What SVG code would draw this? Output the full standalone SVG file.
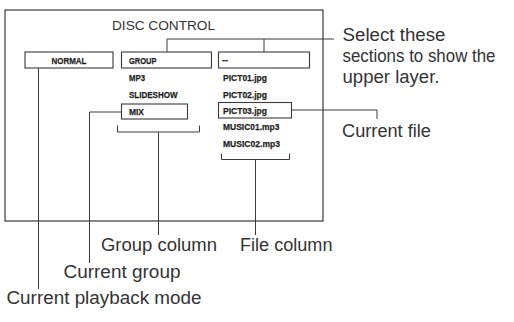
<svg xmlns="http://www.w3.org/2000/svg" width="514" height="322" viewBox="0 0 514 322">
<style>
.frame{fill:none;stroke:#3a3a3a;stroke-width:1.2}
.box{fill:#fff;stroke:#3a3a3a;stroke-width:1.1}
.ln{fill:none;stroke:#3a3a3a;stroke-width:1}
.sm{font-family:"Liberation Sans Narrow","Liberation Sans",Arial,sans-serif;font-weight:bold;font-size:9.8px;fill:#1e1e1e;stroke:#1e1e1e;stroke-width:0.25}
.lb{font-family:"Liberation Sans",Arial,sans-serif;font-size:17.5px;fill:#333}
.tt{font-family:"Liberation Sans",Arial,sans-serif;font-size:13.5px;fill:#333}
</style>
<rect class="frame" x="5" y="10" width="318" height="211"/>
<text class="tt" x="112" y="29.5" textLength="103" lengthAdjust="spacingAndGlyphs">DISC CONTROL</text>
<g id="connectors">
<path class="ln" d="M167,52 V39 H334 M264,39 V52"/>
<path class="ln" d="M292,110 H377 V119"/>
<path class="ln" d="M38.5,68 V289"/>
<path class="ln" d="M121,112 H89.5 V263"/>
<path class="ln" d="M117.5,125.5 V132 H199.5 V125.5 M158.5,132 V235"/>
<path class="ln" d="M221.5,153.5 V159.5 H289.5 V153.5 M255.5,159.5 V235"/>
</g>
<g id="normal">
<rect class="box" x="25" y="52" width="88" height="16"/>
<text class="sm" x="51.5" y="64" textLength="35" lengthAdjust="spacingAndGlyphs">NORMAL</text>
</g>
<g id="group">
<rect class="box" x="121.5" y="52" width="90" height="16"/>
<text class="sm" x="129" y="64" textLength="27.5" lengthAdjust="spacingAndGlyphs">GROUP</text>
</g>
<g id="mp3"><text class="sm" x="129" y="81" textLength="16" lengthAdjust="spacingAndGlyphs">MP3</text></g>
<g id="slideshow"><text class="sm" x="129" y="98" textLength="48.5" lengthAdjust="spacingAndGlyphs">SLIDESHOW</text></g>
<g id="mix">
<rect class="box" x="121.5" y="104" width="66" height="15"/>
<text class="sm" x="129" y="114.5" textLength="15" lengthAdjust="spacingAndGlyphs">MIX</text>
</g>
<g id="up">
<rect class="box" x="218.5" y="52" width="91" height="16"/>
<text class="sm" x="222" y="63" textLength="6" lengthAdjust="spacingAndGlyphs">--</text>
</g>
<g id="pict01"><text class="sm" x="223" y="81" textLength="44" lengthAdjust="spacingAndGlyphs">PICT01.jpg</text></g>
<g id="pict02"><text class="sm" x="223" y="98" textLength="44" lengthAdjust="spacingAndGlyphs">PICT02.jpg</text></g>
<g id="pict03">
<rect class="box" x="218.5" y="102.5" width="73" height="15.5"/>
<text class="sm" x="223" y="114" textLength="44" lengthAdjust="spacingAndGlyphs">PICT03.jpg</text>
</g>
<g id="music01"><text class="sm" x="223" y="130" textLength="56.5" lengthAdjust="spacingAndGlyphs">MUSIC01.mp3</text></g>
<g id="music02"><text class="sm" x="223" y="147" textLength="57" lengthAdjust="spacingAndGlyphs">MUSIC02.mp3</text></g>
<g id="label-select">
<text class="lb" x="342.5" y="40.5" textLength="103" lengthAdjust="spacingAndGlyphs">Select these</text>
<text class="lb" x="342.5" y="62" textLength="153" lengthAdjust="spacingAndGlyphs">sections to show the</text>
<text class="lb" x="342.5" y="83" textLength="97" lengthAdjust="spacingAndGlyphs">upper layer.</text>
</g>
<g id="label-file"><text class="lb" x="342" y="137" textLength="89" lengthAdjust="spacingAndGlyphs">Current file</text></g>
<g id="label-groupcol"><text class="lb" x="101" y="251" textLength="116" lengthAdjust="spacingAndGlyphs">Group column</text></g>
<g id="label-filecol"><text class="lb" x="240" y="251" textLength="92.5" lengthAdjust="spacingAndGlyphs">File column</text></g>
<g id="label-curgroup"><text class="lb" x="63.5" y="277.5" textLength="117" lengthAdjust="spacingAndGlyphs">Current group</text></g>
<g id="label-mode"><text class="lb" x="6.5" y="304" textLength="195" lengthAdjust="spacingAndGlyphs">Current playback mode</text></g>
</svg>
